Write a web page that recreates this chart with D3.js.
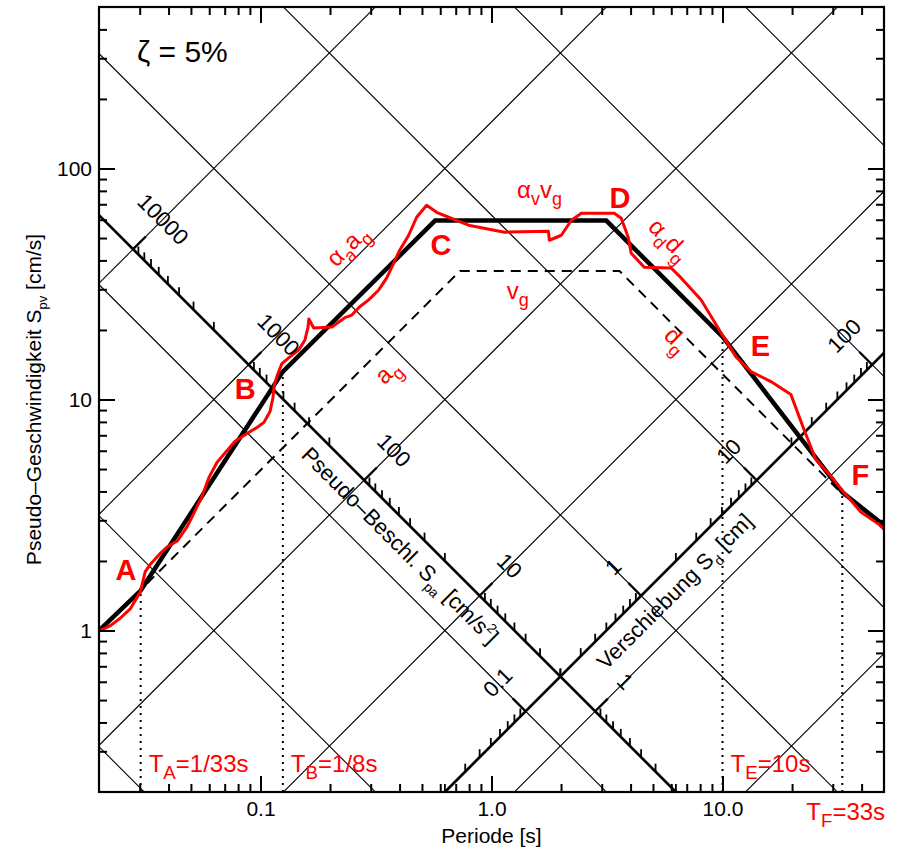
<!DOCTYPE html>
<html><head><meta charset="utf-8">
<script src="https://cdn.jsdelivr.net/npm/d3@7"></script>
<style>
body{margin:0;background:#fff}
svg{display:block}
text{font-family:"Liberation Sans",Arial,Helvetica,sans-serif}
</style>
</head><body>
<svg id="c" width="913" height="849"></svg>
<script>
// ---------------- data ----------------
const periodMajor = [0.1, 1, 10];
const periodLabels = ["0.1", "1.0", "10.0"];
const spvMajor = [1, 10, 100];
const spvLabels = ["1", "10", "100"];
const minorMult = [2, 3, 4, 5, 6, 7, 8, 9];

const sdGrid = [1e-3, 1e-2, 1e-1, 1, 10, 100, 1000];        // cm  (descending lines)
const spaGrid = [1e-1, 1, 10, 100, 1000, 1e4];              // cm/s² (ascending lines)

const spaAxisSd = 0.2;                 // the Spa scale lies on the line Sd = 0.2 cm
const spaAxisMajor = [1, 10, 100, 1000, 10000];
const spaAxisLabels = ["1", "10", "100", "1000", "10000"];
const sdAxisSpa = 2;                   // the Sd scale lies on the line Spa = 2 cm/s²
const sdAxisMajor = [0.1, 1, 10, 100];
const sdAxisLabels = ["0.1", "1", "10", "100"];

// design spectrum (black)
const designT   = [0.02, 0.0303, 0.125, 0.57, 3.14, 10, 33, 50];
const designSpv = [1.0, 1.49, 13.2, 59.5, 59.5, 18.7, 3.97, 2.85];
// ground motion lines a_g, v_g, d_g (dashed)
const groundT   = [0.02, 0.73, 3.58, 33];
const groundSpv = [0.99, 36, 36, 3.9];
// response spectrum (red)
const redT = [0.0202,0.0224,0.0247,0.0273,0.0302,0.0317,0.0333,0.0364,0.0394,0.0436,0.0481,0.0516,0.0559,0.0599,0.0649,0.0776,0.0892,0.0966,0.1035,0.110,0.1133,0.1144,0.1178,0.1238,0.1341,0.1466,0.1557,0.1604,0.162,0.170,0.2036,0.2317,0.2485,0.269,0.294,0.325,0.352,0.3773,0.4005,0.438,0.4743,0.5238,0.5786,0.652,0.7955,1.138,1.763,1.781,2.006,2.216,2.448,3.40,3.644,3.906,4.025,4.581,5.99,6.618,8.07,9.85,11.44,13.28,16.2,19.77,22.5,25.3,29.4,33.5,39.7,47.4,50];
const redSpv = [1.0,1.05,1.13,1.24,1.47,1.80,1.93,2.13,2.30,2.44,2.81,3.23,3.82,4.61,5.35,6.59,7.21,7.57,7.96,8.88,10.2,11.4,12.6,14.3,15.3,16.4,18.1,20.4,22.3,20.4,20.6,22.6,23.2,25.2,27.0,29.8,33.6,38.9,44.3,51.4,61.5,69.3,64.6,61.5,56.8,53.0,53.5,48.9,51.4,59.7,64.0,64.0,60.9,50.4,43.0,37.4,37.1,33.6,27.0,19.45,15.3,13.2,11.96,10.5,7.43,5.51,4.66,3.97,3.26,2.89,2.75];

// corner periods with dotted markers (indices into design arrays)
const cornerIdx = [1, 2, 5, 6];
const cornerLabels = [["T","A","=1/33s"],["T","B","=1/8s"],["T","E","=10s"],["T","F","=33s"]];
const pointNames = ["A","B","C","D","E","F"];
const pointAnchorT   = [0.0262, 0.0858, 0.604, 3.6, 14.6, 39.5];
const pointAnchorSpv = [1.66, 10.1, 42.2, 67.6, 15.5, 4.27];

// ---------------- setup ----------------
const M = {l: 99, r: 884, t: 7, b: 792};
const x = d3.scaleLog().domain([0.02, 50]).range([M.l, M.r]);
const y = d3.scaleLog().domain([0.2, 500]).range([M.b, M.t]);
const TP = 2 * Math.PI;
const RED = "#ff0000";
const svg = d3.select("#c");

svg.append("defs").append("clipPath").attr("id", "clip")
  .append("rect").attr("x", M.l).attr("y", M.t).attr("width", M.r - M.l).attr("height", M.b - M.t);
const g = svg.append("g").attr("clip-path", "url(#clip)");

function rich(textSel, parts, fs, subScale) {
  let shift = 0;
  parts.forEach(([t, m]) => {
    const target = m === 1 ? fs * 0.3 : m === 2 ? -fs * 0.42 : 0;
    textSel.append("tspan").attr("dy", target - shift)
      .attr("font-size", m ? fs * (subScale || 0.65) : fs).text(t);
    shift = target;
  });
}

// ---------------- grid ----------------
const Tfar = [0.001, 1000];
sdGrid.forEach(sd => {
  g.append("line")
    .attr("x1", x(Tfar[0])).attr("y1", y(TP * sd / Tfar[0]))
    .attr("x2", x(Tfar[1])).attr("y2", y(TP * sd / Tfar[1]))
    .attr("stroke", "#000").attr("stroke-width", 1.1);
});
spaGrid.forEach(a => {
  g.append("line")
    .attr("x1", x(Tfar[0])).attr("y1", y(a * Tfar[0] / TP))
    .attr("x2", x(Tfar[1])).attr("y2", y(a * Tfar[1] / TP))
    .attr("stroke", "#000").attr("stroke-width", 1.1);
});

// ---------------- diagonal scales ----------------
function spaPt(a) { const T = TP * Math.sqrt(spaAxisSd / a); return [x(T), y(a * T / TP)]; }
function sdPt(d)  { const T = TP * Math.sqrt(d / sdAxisSpa); return [x(T), y(TP * d / T)]; }

g.append("line")
  .attr("x1", x(0.02)).attr("y1", y(TP * spaAxisSd / 0.02))
  .attr("x2", x(100)).attr("y2", y(TP * spaAxisSd / 100))
  .attr("stroke", "#000").attr("stroke-width", 2.7);
g.append("line")
  .attr("x1", x(0.1)).attr("y1", y(sdAxisSpa * 0.1 / TP))
  .attr("x2", x(100)).attr("y2", y(sdAxisSpa * 100 / TP))
  .attr("stroke", "#000").attr("stroke-width", 2.7);

const s2 = Math.SQRT1_2;
const spaMinor = [0.1, 1, 10, 100, 1000].flatMap(d => minorMult.map(m => m * d)).filter(v => v >= 0.2 && v < 19000);
const sdMinor = [0.01, 0.1, 1, 10].flatMap(d => minorMult.map(m => m * d)).filter(v => v >= 0.02 && v < 126);

spaMinor.forEach(a => {
  const [px, py] = spaPt(a);
  g.append("line").attr("x1", px).attr("y1", py).attr("x2", px).attr("y2", py - 8)
    .attr("stroke", "#000").attr("stroke-width", 1.8);
});
spaAxisMajor.forEach((a, i) => {
  const [px, py] = spaPt(a);
  g.append("line").attr("x1", px).attr("y1", py).attr("x2", px + 18 * s2).attr("y2", py - 18 * s2)
    .attr("stroke", "#000").attr("stroke-width", 2.4);
  svg.append("text")
    .attr("transform", `translate(${px + 30},${py - 30}) rotate(45)`)
    .attr("text-anchor", "middle").attr("dy", "0.35em")
    .attr("font-size", 22).text(spaAxisLabels[i]);
});
sdMinor.forEach(d => {
  const [px, py] = sdPt(d);
  g.append("line").attr("x1", px).attr("y1", py).attr("x2", px).attr("y2", py - 8)
    .attr("stroke", "#000").attr("stroke-width", 1.8);
});
sdAxisMajor.forEach((d, i) => {
  const [px, py] = sdPt(d);
  g.append("line").attr("x1", px).attr("y1", py).attr("x2", px - 18 * s2).attr("y2", py - 18 * s2)
    .attr("stroke", "#000").attr("stroke-width", 2.4);
  svg.append("text")
    .attr("transform", `translate(${px - 28},${py - 29}) rotate(-45)`)
    .attr("text-anchor", "middle").attr("dy", "0.35em")
    .attr("font-size", 22).text(sdAxisLabels[i]);
});

{
  const T = 0.465, px = x(T), py = y(TP * spaAxisSd / T);
  const t = svg.append("text")
    .attr("transform", `translate(${px - 15},${py + 15}) rotate(45)`)
    .attr("text-anchor", "middle").attr("y", 7);
  rich(t, [["Pseudo–Beschl. S", 0], ["pa", 1], [" [cm/s", 0], ["2", 2], ["]", 0]], 22, 0.62);
}
{
  const T = 5.37, px = x(T), py = y(sdAxisSpa * T / TP);
  const t = svg.append("text")
    .attr("transform", `translate(${px + 15},${py + 15}) rotate(-45)`)
    .attr("text-anchor", "middle").attr("y", 7);
  rich(t, [["Verschiebung S", 0], ["d", 1], [" [cm]", 0]], 22, 0.62);
}

// ---------------- curves ----------------
const line = d3.line().x(d => x(d[0])).y(d => y(d[1]));

g.append("path").datum(groundT.map((t, i) => [t, groundSpv[i]]))
  .attr("d", line).attr("fill", "none").attr("stroke", "#000")
  .attr("stroke-width", 2).attr("stroke-dasharray", "10,7");

cornerIdx.forEach(k => {
  g.append("line")
    .attr("x1", x(designT[k])).attr("y1", y(0.2))
    .attr("x2", x(designT[k])).attr("y2", y(designSpv[k]))
    .attr("stroke", "#000").attr("stroke-width", 2).attr("stroke-dasharray", "2,5");
});

g.append("path").datum(designT.map((t, i) => [t, designSpv[i]]))
  .attr("d", line).attr("fill", "none").attr("stroke", "#000")
  .attr("stroke-width", 4.5).attr("stroke-linejoin", "miter");

g.append("path").datum(redT.map((t, i) => [t, redSpv[i]]))
  .attr("d", line).attr("fill", "none").attr("stroke", RED)
  .attr("stroke-width", 3).attr("stroke-linejoin", "round");

// ---------------- annotations ----------------
pointNames.forEach((n, i) => {
  svg.append("text").attr("x", x(pointAnchorT[i])).attr("y", y(pointAnchorSpv[i]))
    .attr("text-anchor", "middle").attr("font-weight", "bold").attr("font-size", 29)
    .attr("fill", RED).text(n);
});

function redLabel(T, Spv, angle, parts, anchor) {
  const t = svg.append("text")
    .attr("transform", `translate(${x(T)},${y(Spv)}) rotate(${angle})`)
    .attr("text-anchor", anchor || "middle").attr("fill", RED).attr("y", anchor ? 0 : 7);
  rich(t, parts, 24, 0.75);
}
redLabel(0.239, 46, -45, [["α", 0], ["a", 1], ["a", 0], ["g", 1]]);
redLabel(1.29, 74.6, 0, [["α", 0], ["v", 1], ["v", 0], ["g", 1]], "start");
redLabel(5.84, 49, 45, [["α", 0], ["d", 1], ["d", 0], ["g", 1]]);
redLabel(1.30, 29.3, 0, [["v", 0], ["g", 1]]);
redLabel(0.356, 13.1, -45, [["a", 0], ["g", 1]]);
redLabel(6.28, 18.1, 45, [["d", 0], ["g", 1]]);

cornerIdx.forEach((k, i) => {
  const last = i === cornerIdx.length - 1;
  const t = svg.append("text")
    .attr("x", x(designT[k]) + (last ? -36 : 8))
    .attr("y", last ? 820 : 772)
    .attr("fill", RED);
  const p = cornerLabels[i];
  rich(t, [[p[0], 0], [p[1], 1], [p[2], 0]], 24, 0.78);
});

svg.append("text").attr("x", 137).attr("y", 62).attr("font-size", 30).text("ζ = 5%");

// ---------------- frame & axes ----------------
function styleAxis(sel) {
  sel.select(".domain").remove();
  sel.selectAll(".tick line").attr("stroke", "#000").attr("stroke-width", 2);
  sel.selectAll("text").attr("font-size", 21).attr("fill", "#000")
    .attr("font-family", '"Liberation Sans",Arial,sans-serif');
}
const periodMinor = [0.01, 0.1, 1, 10].flatMap(d => minorMult.map(m => m * d)).filter(v => v > 0.0201 && v < 49.9);
const spvMinor = [0.1, 1, 10, 100].flatMap(d => minorMult.map(m => m * d)).filter(v => v > 0.201 && v < 499);

svg.append("g").attr("transform", `translate(0,${M.b})`)
  .call(d3.axisBottom(x).tickValues(periodMajor).tickFormat((d, i) => periodLabels[i]).tickSizeInner(-16).tickSizeOuter(0).tickPadding(9)).call(styleAxis);
svg.append("g").attr("transform", `translate(0,${M.b})`)
  .call(d3.axisBottom(x).tickValues(periodMinor).tickFormat("").tickSizeInner(-8).tickSizeOuter(0)).call(styleAxis);
svg.append("g").attr("transform", `translate(0,${M.t})`)
  .call(d3.axisTop(x).tickValues(periodMajor).tickFormat("").tickSizeInner(-16).tickSizeOuter(0)).call(styleAxis);
svg.append("g").attr("transform", `translate(0,${M.t})`)
  .call(d3.axisTop(x).tickValues(periodMinor).tickFormat("").tickSizeInner(-8).tickSizeOuter(0)).call(styleAxis);
svg.append("g").attr("transform", `translate(${M.l},0)`)
  .call(d3.axisLeft(y).tickValues(spvMajor).tickFormat((d, i) => spvLabels[i]).tickSizeInner(-16).tickSizeOuter(0).tickPadding(7)).call(styleAxis);
svg.append("g").attr("transform", `translate(${M.l},0)`)
  .call(d3.axisLeft(y).tickValues(spvMinor).tickFormat("").tickSizeInner(-8).tickSizeOuter(0)).call(styleAxis);
svg.append("g").attr("transform", `translate(${M.r},0)`)
  .call(d3.axisRight(y).tickValues(spvMajor).tickFormat("").tickSizeInner(-16).tickSizeOuter(0)).call(styleAxis);
svg.append("g").attr("transform", `translate(${M.r},0)`)
  .call(d3.axisRight(y).tickValues(spvMinor).tickFormat("").tickSizeInner(-8).tickSizeOuter(0)).call(styleAxis);

svg.append("rect").attr("x", M.l).attr("y", M.t).attr("width", M.r - M.l).attr("height", M.b - M.t)
  .attr("fill", "none").attr("stroke", "#000").attr("stroke-width", 2.2);

svg.append("text").attr("x", (M.l + M.r) / 2).attr("y", 843).attr("text-anchor", "middle")
  .attr("font-size", 21).text("Periode [s]");
{
  const t = svg.append("text").attr("transform", `translate(41,${(M.t + M.b) / 2}) rotate(-90)`)
    .attr("text-anchor", "middle");
  rich(t, [["Pseudo–Geschwindigkeit S", 0], ["pv", 1], [" [cm/s]", 0]], 21, 0.62);
}
</script>
</body></html>
